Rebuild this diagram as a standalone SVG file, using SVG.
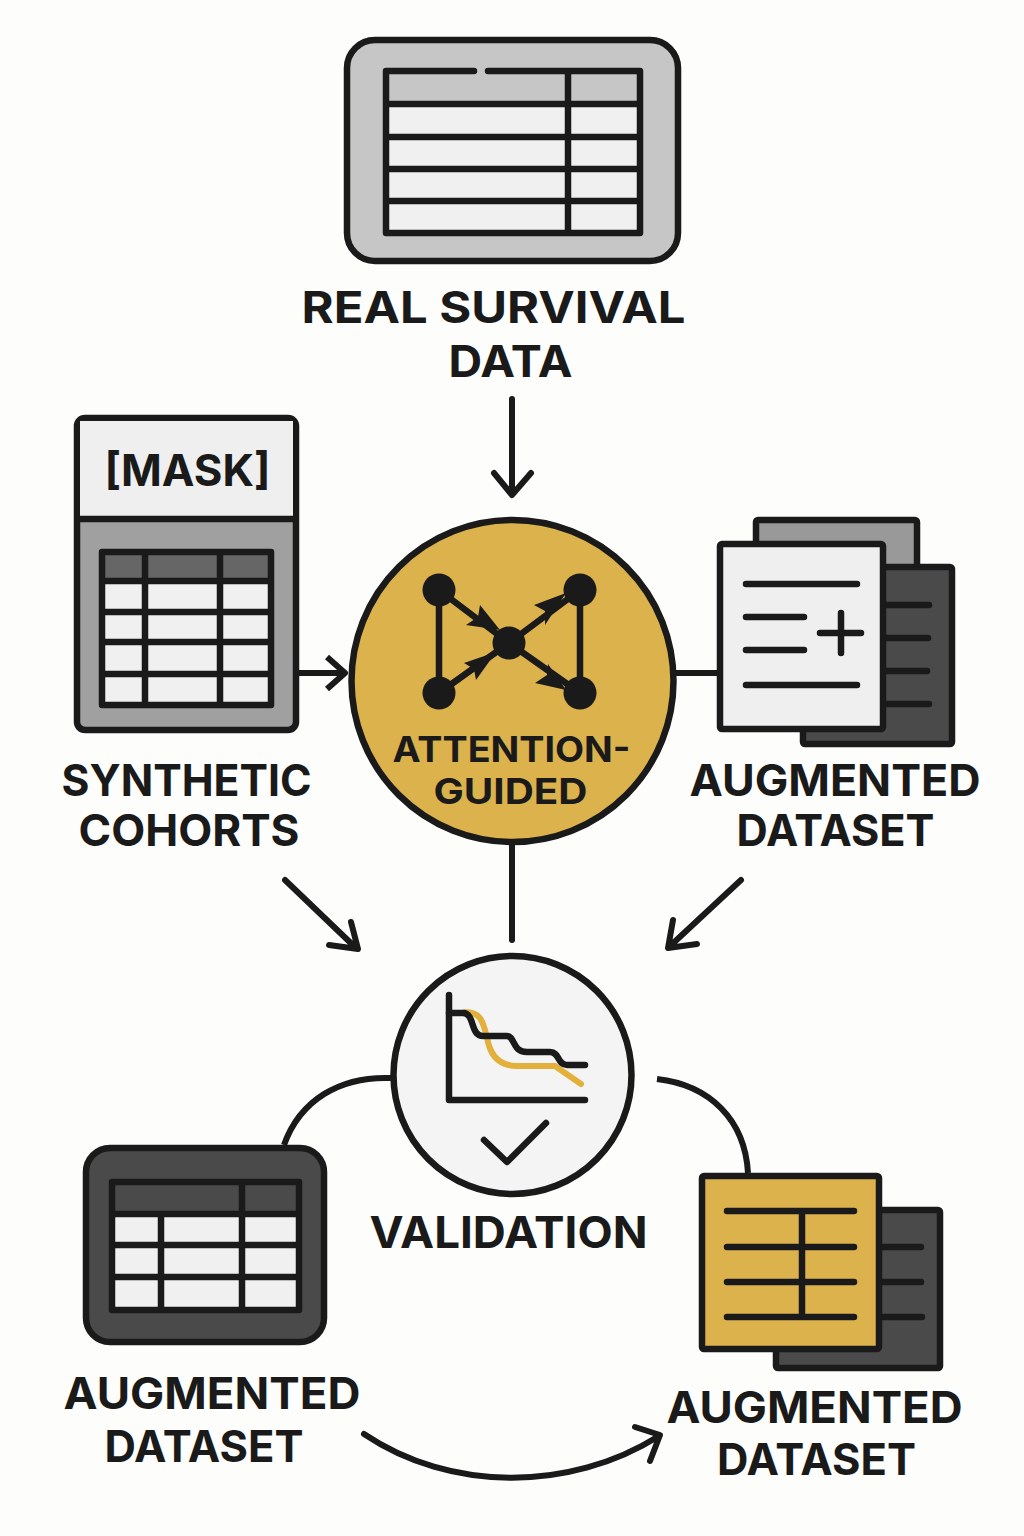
<svg xmlns="http://www.w3.org/2000/svg" width="1024" height="1536" viewBox="0 0 1024 1536">
<style>
text{font-family:Inter,"Liberation Sans",sans-serif;font-weight:700;fill:#1a1a1a;text-anchor:middle;font-size:44px}
.i{font-size:36px}
.s{stroke:#1a1a1a;stroke-width:6.500;stroke-linejoin:round}
.l{stroke:#1a1a1a;stroke-width:6.500;fill:none;stroke-linecap:round;stroke-linejoin:round}
.c{stroke:#1a1a1a;stroke-width:6;fill:none;stroke-linecap:round;stroke-linejoin:round}
.g{stroke:#1a1a1a;stroke-width:6.500;fill:none}
</style>
<rect width="1024" height="1536" fill="#fdfdfc"/>
<g id="connectors">
<path class="c" d="M512,399V494M494,473L512,495L531,473"/>
<path class="c" d="M299,673H343M327,657L345,673L327,689" style="stroke-linecap:butt"/>
<path class="c" d="M676,673H717" style="stroke-linecap:butt"/>
<path class="c" d="M512,845V940"/>
<path class="c" d="M285,880L356,948M329,945L358,949L351,922"/>
<path class="c" d="M741,880L669,947M697,944L668,948L673,920"/>
<path class="c" d="M391,1078C340,1076 300,1100 284,1145" style="stroke-linecap:butt"/>
<path class="c" d="M657,1079C710,1085 745,1120 748,1173" style="stroke-linecap:butt"/>
<path class="c" d="M364,1434C450,1492 570,1492 659,1436M635,1427L660,1435L650,1461"/>
</g>
<g id="real-survival-data">
<rect class="s" x="347" y="40" width="331" height="221" rx="28" fill="#c5c6c5"/>
<rect x="386" y="71" width="254" height="162" fill="#f0f0f0"/>
<rect x="386" y="71" width="254" height="33" fill="#c5c6c5"/>
<path class="g" d="M386,104H640M386,137H640M386,169H640M386,201H640M568,71V233"/>
<path class="l" d="M474,71H386V233H640V71H488"/>
<text x="493.500" y="323" textLength="384" lengthAdjust="spacingAndGlyphs">REAL SURVIVAL</text>
<text x="510.500" y="377" textLength="124" lengthAdjust="spacingAndGlyphs">DATA</text>
</g>
<g id="synthetic-cohorts">
<rect class="s" x="77" y="418" width="219" height="312" rx="8" fill="#a0a0a0"/>
<rect x="80" y="421" width="213" height="98" fill="#efefef"/>
<path class="g" d="M77,519H296"/>
<rect x="102" y="552" width="169" height="153" fill="#f0f0f0"/>
<rect x="102" y="552" width="169" height="29" fill="#666"/>
<path class="g" d="M102,581H271M102,612H271M102,642H271M102,674H271M145,552V705M220,552V705"/>
<rect class="s" x="102" y="552" width="169" height="153" fill="none"/>
<text x="187.500" y="486" textLength="166" lengthAdjust="spacingAndGlyphs">[MASK]</text>
<text x="186.500" y="796" textLength="250" lengthAdjust="spacingAndGlyphs">SYNTHETIC</text>
<text x="189" y="846" textLength="221" lengthAdjust="spacingAndGlyphs">COHORTS</text>
</g>
<g id="attention-guided">
<circle class="s" cx="512.500" cy="681" r="161" fill="#dbb24c"/>
<path class="l" d="M439,590V693M580,590V693"/>
<path class="l" d="M439,590L509,643M580,590L509,643M439,693L509,643M580,693L509,643"/>
<circle cx="439" cy="590" r="16.500" fill="#1a1a1a"/>
<circle cx="580" cy="590" r="16.500" fill="#1a1a1a"/>
<circle cx="439" cy="693" r="16.500" fill="#1a1a1a"/>
<circle cx="580" cy="693" r="16.500" fill="#1a1a1a"/>
<circle cx="509" cy="643" r="16.500" fill="#1a1a1a"/>
<path fill="#1a1a1a" d="M500,630L466,625L478,617L480,605Z"/>
<path fill="#1a1a1a" d="M566,593L534,605L545,611L545,625Z"/>
<path fill="#1a1a1a" d="M496,652L464,663L474,669L476,680Z"/>
<path fill="#1a1a1a" d="M566,690L535,683L547,675L548,664Z"/>
<text class="i" x="511.500" y="762" textLength="238" lengthAdjust="spacingAndGlyphs">ATTENTION-</text>
<text class="i" x="510.500" y="804" textLength="154" lengthAdjust="spacingAndGlyphs">GUIDED</text>
</g>
<g id="augmented-dataset-1">
<rect class="s" x="756" y="520" width="161" height="80" rx="2" fill="#999"/>
<rect class="s" x="803" y="567" width="149" height="177" rx="2" fill="#4a4a4a"/>
<path class="l" d="M880,605H929M880,638H928M880,671H927M880,704H929"/>
<rect class="s" x="720" y="544" width="163" height="185" rx="2" fill="#efefef"/>
<path class="l" d="M746,584H857M746,617H804M746,650H804M746,685H857M820,633H861M841,613V653"/>
<text x="835" y="796" textLength="291" lengthAdjust="spacingAndGlyphs">AUGMENTED</text>
<text x="835.500" y="846" textLength="198" lengthAdjust="spacingAndGlyphs">DATASET</text>
</g>
<g id="validation">
<circle class="s" cx="512.500" cy="1075" r="119" fill="#f4f4f4"/>
<path fill="none" stroke="#e3b03c" stroke-width="6" stroke-linecap="round" d="M465,1012C483,1012 483,1025 487,1037C490,1057 500,1066 517,1066H555L581,1084"/>
<path class="l" d="M449,995V1100H585"/>
<path class="l" d="M449,1013H463C475,1013 470,1036 483,1036H507C515,1036 512,1052 527,1052H550C560,1052 557,1065 567,1065H585"/>
<path class="l" d="M484,1140L507,1162L546,1123"/>
<text x="508.500" y="1248" textLength="278" lengthAdjust="spacingAndGlyphs">VALIDATION</text>
</g>
<g id="augmented-dataset-2">
<rect class="s" x="86" y="1148" width="238" height="194" rx="24" fill="#4a4a4a"/>
<rect x="112" y="1214" width="187" height="96" fill="#f0f0f0"/>
<path class="g" d="M112,1214H299M112,1245H299M112,1277H299M242,1182V1310M161,1214V1310"/>
<rect class="s" x="112" y="1182" width="187" height="128" fill="none"/>
<text x="212" y="1409" textLength="297" lengthAdjust="spacingAndGlyphs">AUGMENTED</text>
<text x="204" y="1462" textLength="199" lengthAdjust="spacingAndGlyphs">DATASET</text>
</g>
<g id="augmented-dataset-3">
<rect class="s" x="776" y="1210" width="164" height="158" rx="2" fill="#4a4a4a"/>
<path class="l" d="M880,1247H921M880,1282H921M880,1317H922"/>
<rect class="s" x="702" y="1176" width="177" height="173" rx="2" fill="#dbb24c"/>
<path class="l" d="M727,1211H854M727,1247H854M727,1282H854M727,1317H854M802,1211V1317"/>
<text x="814.500" y="1423" textLength="296" lengthAdjust="spacingAndGlyphs">AUGMENTED</text>
<text x="816.500" y="1475" textLength="199" lengthAdjust="spacingAndGlyphs">DATASET</text>
</g>
</svg>
